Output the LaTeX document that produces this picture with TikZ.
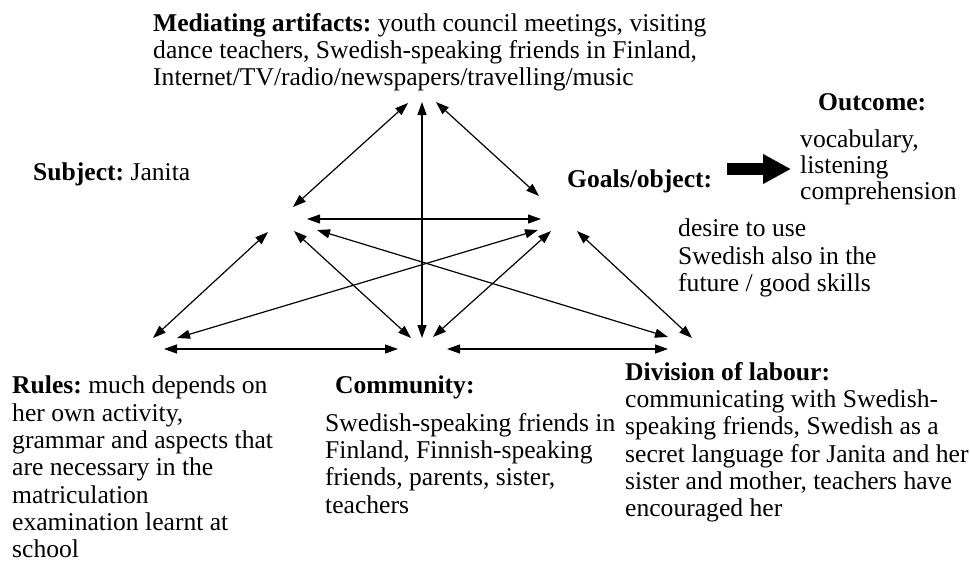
\documentclass[tikz,border=0pt]{standalone}
\usepackage{fontspec}
\setmainfont{Liberation Serif}
\usetikzlibrary{arrows.meta}
\frenchspacing
\begin{document}
\begin{tikzpicture}[x=1pt,y=-1pt,
  txt/.style={anchor=north west, inner sep=0pt, align=left,
    font=\fontsize{25.6}{27.3}\selectfont},
  link/.style={{Triangle[length=13pt,width=9pt]}-{Triangle[length=13pt,width=9pt]},
    line width=1.2pt},
  bigarrow/.style={line width=12pt, -{Triangle[length=28pt,width=28pt]}},
]
\useasboundingbox (0,0) rectangle (970,563);

% labels of the activity system
\node[txt] (med) at (153,13) {\textbf{Mediating artifacts:} youth council meetings, visiting\\
  dance teachers, Swedish-speaking friends in Finland,\\
  Internet/TV/radio/newspapers/travelling/music};
\node[txt] (subj) at (33,163) {\textbf{Subject:} Janita};
\node[txt] (goals) at (567,170) {\textbf{Goals/object:}};
\node[txt] (outh) at (818,93) {\textbf{Outcome:}};
\node[txt, font=\fontsize{25.6}{26}\selectfont] (outb) at (800,130) {vocabulary,\\listening\\comprehension};
\node[txt] (desire) at (678,219) {desire to use\\Swedish also in the\\future / good skills};
\node[txt] (rules) at (12,376) {\textbf{Rules:} much depends on\\her own activity,\\grammar and aspects that\\
  are necessary in the\\matriculation\\examination learnt at\\school};
\node[txt] (commh) at (335,376) {\textbf{Community:}};
\node[txt] (commb) at (325,413) {Swedish-speaking friends in\\Finland, Finnish-speaking\\
  friends, parents, sister,\\teachers};
\node[txt] (div) at (625,362) {\textbf{Division of labour:}\\communicating with Swedish-\\
  speaking friends, Swedish as a\\secret language for Janita and her\\
  sister and mother, teachers have\\encouraged her};

% ends of the connectors around each corner
\coordinate (m1) at (408,103);
\coordinate (m2) at (422,102);
\coordinate (m3) at (436,102);
\coordinate (s1) at (293,207);
\coordinate (s2) at (307,219);
\coordinate (s3) at (268,232);
\coordinate (s4) at (294,231);
\coordinate (s5) at (317,230);
\coordinate (g1) at (539,196);
\coordinate (g2) at (541,219);
\coordinate (g3) at (538,230);
\coordinate (g4) at (551,231);
\coordinate (g5) at (577,231);
\coordinate (r1) at (153,338);
\coordinate (r2) at (177,338);
\coordinate (r3) at (164,349);
\coordinate (c1) at (422,338);
\coordinate (c2) at (411,338);
\coordinate (c3) at (433,337);
\coordinate (c4) at (398,349);
\coordinate (c5) at (447,349);
\coordinate (d1) at (668,337);
\coordinate (d2) at (692,338);
\coordinate (d3) at (668,349);

% two-way relations
\draw[link] (m1) -- (s1);
\draw[link] (m2) -- (c1);
\draw[link] (m3) -- (g1);
\draw[link] (s2) -- (g2);
\draw[link] (s3) -- (r1);
\draw[link] (s4) -- (c2);
\draw[link] (s5) -- (d1);
\draw[link] (g3) -- (r2);
\draw[link] (g4) -- (c3);
\draw[link] (g5) -- (d2);
\draw[link] (r3) -- (c4);
\draw[link] (c5) -- (d3);

% goals lead to the outcome
\coordinate (ga) at (727,169);
\coordinate (gb) at (791,169);
\draw[bigarrow] (ga) -- (gb);
\end{tikzpicture}
\end{document}
